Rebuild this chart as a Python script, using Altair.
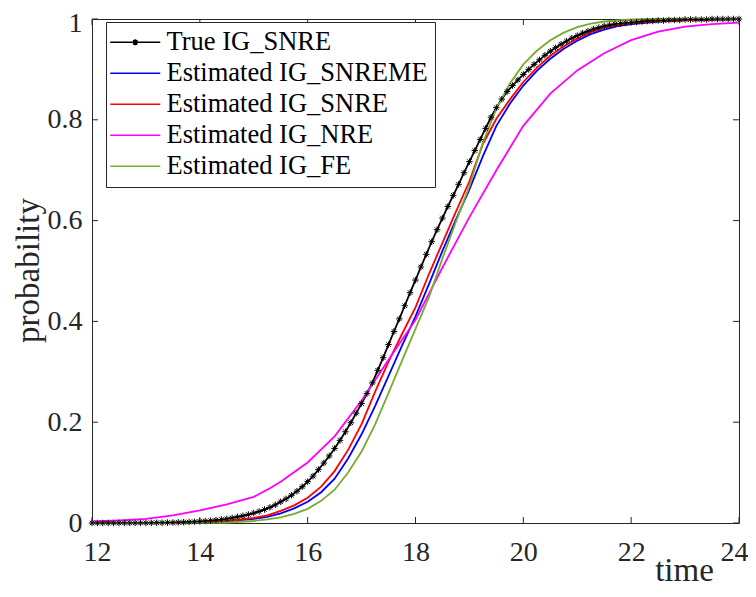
import altair as alt
import pandas as pd

FONT = "Liberation Serif"
SERIES = ["True IG_SNRE", "Estimated IG_SNREME", "Estimated IG_SNRE",
          "Estimated IG_NRE", "Estimated IG_FE"]
COLORS = ["#000000", "#0000FF", "#FF0000", "#FF00FF", "#77AC30"]
X_TICKS = [12, 14, 16, 18, 20, 22, 24]
Y_TICKS = [0, 0.2, 0.4, 0.6, 0.8, 1]

TRUE_X = [round(12 + 0.1 * i, 1) for i in range(121)]
TRUE_Y = [
    0, 0, 0, 0, 0, 0.0001, 0.0001, 0.0001, 0.0002, 0.0002,
    0.0003, 0.0004, 0.0005, 0.0006, 0.0008, 0.0010, 0.0013, 0.0016, 0.0020, 0.0025,
    0.0031, 0.0038, 0.0047, 0.0057, 0.0069, 0.0083, 0.0100, 0.0120, 0.0142, 0.0168,
    0.0197, 0.0230, 0.0268, 0.031, 0.036, 0.042, 0.048, 0.055, 0.063, 0.072,
    0.082, 0.093, 0.106, 0.119, 0.133, 0.148, 0.164, 0.181, 0.199, 0.218,
    0.237, 0.257, 0.278, 0.303, 0.328, 0.354, 0.380, 0.405, 0.431, 0.457,
    0.482, 0.508, 0.533, 0.558, 0.582, 0.605, 0.628, 0.650, 0.672, 0.695,
    0.717, 0.739, 0.761, 0.783, 0.805, 0.824, 0.841, 0.856, 0.868, 0.879,
    0.890, 0.900, 0.910, 0.919, 0.928, 0.936, 0.943, 0.950, 0.956, 0.962,
    0.967, 0.972, 0.976, 0.980, 0.983, 0.986, 0.988, 0.990, 0.991, 0.992,
    0.993, 0.994, 0.995, 0.996, 0.996, 0.997, 0.997, 0.998, 0.998, 0.998,
    0.999, 0.999, 0.999, 0.999, 0.999, 1.0, 1.0, 1.0, 1.0, 1.0,
    1.0,
]

EST_X = [12.0, 12.5, 13.0, 13.5, 14.0, 14.5, 15.0, 15.25, 15.5, 15.75,
         16.0, 16.25, 16.5, 16.75, 17.0, 17.25, 17.5, 17.75, 18.0, 18.25,
         18.5, 18.75, 19.0, 19.25, 19.5, 19.75, 20.0, 20.25, 20.5, 20.75,
         21.0, 21.25, 21.5, 21.75, 22.0, 22.5, 23.0, 23.5, 24.0]
SNREME_Y = [0.0, 0.0, 0.0001, 0.0003, 0.001, 0.003, 0.008, 0.012, 0.019, 0.029,
            0.042, 0.061, 0.088, 0.128, 0.176, 0.232, 0.292, 0.352, 0.410, 0.474,
            0.540, 0.602, 0.662, 0.728, 0.788, 0.832, 0.868, 0.897, 0.921, 0.941,
            0.957, 0.970, 0.979, 0.986, 0.990, 0.995, 0.998, 0.999, 1.0]
SNRE_Y = [0.0, 0.0, 0.0001, 0.0004, 0.0015, 0.004, 0.010, 0.015, 0.024, 0.035,
          0.050, 0.072, 0.103, 0.145, 0.196, 0.260, 0.320, 0.375, 0.428, 0.494,
          0.556, 0.618, 0.678, 0.752, 0.802, 0.840, 0.875, 0.903, 0.927, 0.946,
          0.961, 0.974, 0.983, 0.988, 0.992, 0.996, 0.998, 0.999, 1.0]
FE_Y = [0.0, 0.0, 0.0, 0.0001, 0.0003, 0.001, 0.004, 0.007, 0.011, 0.018,
        0.028, 0.044, 0.066, 0.100, 0.142, 0.195, 0.258, 0.322, 0.385, 0.448,
        0.525, 0.598, 0.668, 0.755, 0.822, 0.872, 0.910, 0.937, 0.958, 0.973,
        0.984, 0.991, 0.995, 0.997, 0.999, 1.0, 1.0, 1.0, 1.0]

NRE_X = [12.0, 12.5, 13.0, 13.5, 14.0, 14.5, 15.0, 15.3, 15.5, 16.0,
         16.5, 17.0, 17.5, 18.0, 18.5, 19.0, 19.5, 20.0, 20.5, 21.0,
         21.5, 22.0, 22.5, 23.0, 23.5, 24.0]
NRE_Y = [0.003, 0.005, 0.008, 0.015, 0.025, 0.037, 0.052, 0.069, 0.082, 0.120,
         0.172, 0.243, 0.324, 0.403, 0.507, 0.607, 0.700, 0.788, 0.852, 0.898,
         0.932, 0.958, 0.975, 0.985, 0.990, 0.993]

SERIES_DATA = [(TRUE_X, TRUE_Y), (EST_X, SNREME_Y), (EST_X, SNRE_Y),
               (NRE_X, NRE_Y), (EST_X, FE_Y)]
rows = []
for i, (xs, ys) in enumerate(SERIES_DATA):
    for x, y in zip(xs, ys):
        rows.append({"series": SERIES[i], "t": x, "p": y})
df = pd.DataFrame(rows)
df_xt = pd.DataFrame({"t": X_TICKS})
df_yt = pd.DataFrame({"p": Y_TICKS})

W, H = 647, 504
AX = "#262626"
xscale = alt.Scale(domain=[12, 24], nice=False, zero=False)
yscale = alt.Scale(domain=[0, 1], nice=False, zero=False)
cscale = alt.Scale(domain=SERIES, range=COLORS)

STAR = "M-1,0H1M0,-1V1M-0.7,-0.7L0.7,0.7M-0.7,0.7L0.7,-0.7"
LEG_TRUE = "M-5,0H5M0,-0.6V0.6M-0.42,-0.42L0.42,0.42M-0.42,0.42L0.42,-0.42"
LEG_LINE = "M-5,0H5"

xaxis = alt.Axis(values=X_TICKS, format="~g", ticks=False, tickSize=0, domain=False,
                 grid=False, labelFont=FONT, labelFontSize=28, labelColor=AX,
                 labelPadding=15, labelFlush=True, labelFlushOffset=9,
                 labelOverlap=False,
                 titleFont=FONT, titleFontSize=33, titleFontWeight="normal",
                 titleColor=AX, titleX=592, titleY=57, titleAlign="center",
                 titleBaseline="alphabetic")
yaxis = alt.Axis(values=Y_TICKS, format="~g", ticks=False, tickSize=0, domain=False,
                 grid=False, labelFont=FONT, labelFontSize=28, labelColor=AX,
                 labelPadding=10, labelFlush=False, labelOverlap=False,
                 labelOffset={"condition": {"test": "datum.value === 1", "value": 4},
                              "value": 0},
                 titleFont=FONT, titleFontSize=33, titleFontWeight="normal",
                 titleColor=AX, titleX=-64, titleY=251, titleAlign="center",
                 titleBaseline="middle", titleAngle=270)

X = alt.X("t:Q", scale=xscale, axis=xaxis, title="time")
Y = alt.Y("p:Q", scale=yscale, axis=yaxis, title="probability")

base = alt.Chart(df)

# one line layer per series, in the original drawing order
line_layers = [
    base.transform_filter(alt.datum.series == s).mark_line(
        strokeWidth=1.8, color=c).encode(x=X, y=Y)
    for s, c in zip(SERIES, COLORS)
]

stars = base.transform_filter(alt.datum.series == SERIES[0]).mark_point(
    shape=STAR, size=42, filled=False, color="#000000", strokeWidth=1, opacity=1
).encode(x=X, y=Y)

legend_carrier = base.mark_point(filled=False, opacity=0).encode(
    x=X, y=Y,
    color=alt.Color("series:N", scale=cscale,
                    legend=alt.Legend(title=None, symbolOpacity=1)),
    shape=alt.Shape("series:N",
                    scale=alt.Scale(domain=SERIES, range=[LEG_TRUE] + [LEG_LINE] * 4),
                    legend=alt.Legend(title=None, symbolOpacity=1)),
)

tick = dict(color=AX, strokeWidth=1)
xt_bottom = alt.Chart(df_xt).mark_rule(**tick).encode(
    x=X, y=alt.value(H), y2=alt.value(H - 6))
xt_top = alt.Chart(df_xt).mark_rule(**tick).encode(
    x=X, y=alt.value(0), y2=alt.value(6))
yt_left = alt.Chart(df_yt).mark_rule(**tick).encode(
    y=Y, x=alt.value(0), x2=alt.value(6))
yt_right = alt.Chart(df_yt).mark_rule(**tick).encode(
    y=Y, x=alt.value(W), x2=alt.value(W - 6))

chart = alt.layer(
    xt_bottom, xt_top, yt_left, yt_right, *line_layers, stars, legend_carrier
).properties(
    width=W, height=H,
    autosize=alt.AutoSizeParams(type="none"),
    padding={"left": 84, "top": 11, "right": 9, "bottom": 65},
    background="white",
).configure_view(
    stroke=AX, strokeWidth=1
).configure_legend(
    orient="none", legendX=14, legendY=3,
    labelFont=FONT, labelFontSize=26.5, labelColor="#000000", labelLimit=0,
    strokeColor=AX, fillColor="white", padding=7, cornerRadius=0,
    symbolSize=100, symbolStrokeWidth=1.5, symbolOffset=9, labelOffset=18,
    rowPadding=4, symbolFillColor="transparent",
)

chart.save("out.html", embed_options={"renderer": "svg", "actions": False})
